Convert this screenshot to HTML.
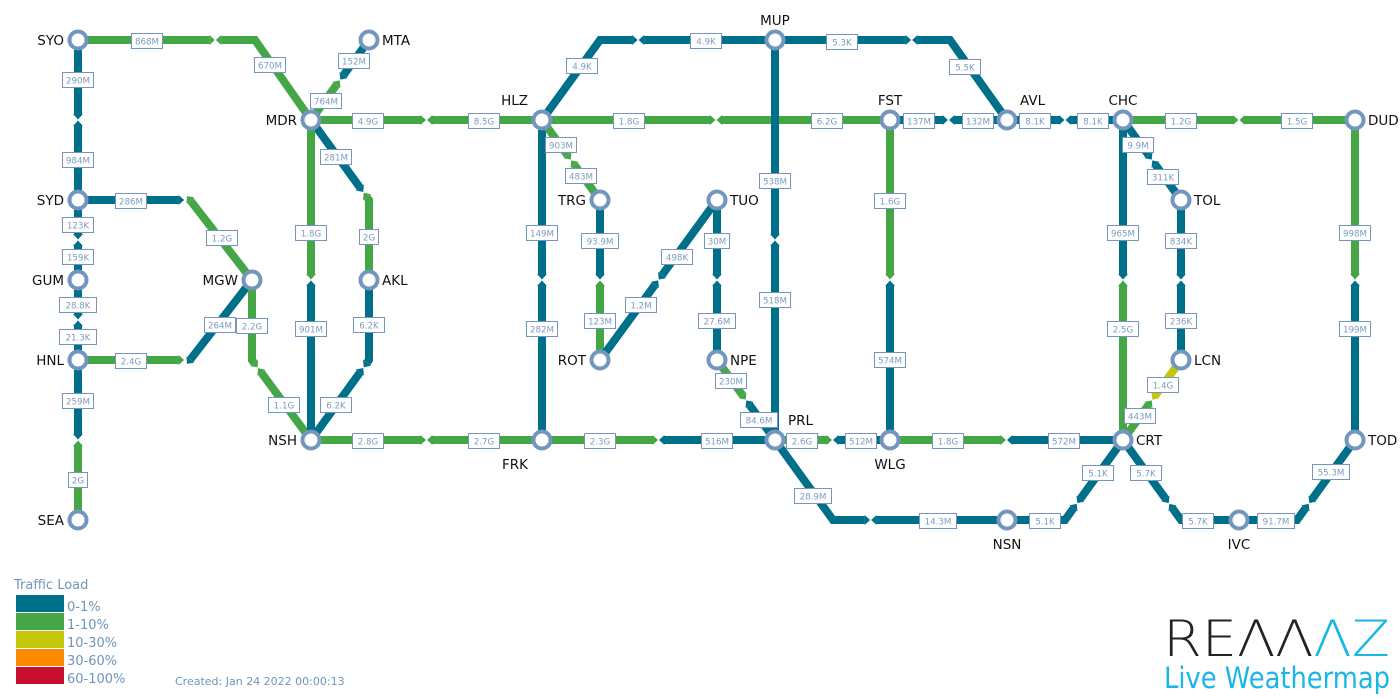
<!DOCTYPE html>
<html><head><meta charset="utf-8"><style>
html,body{margin:0;padding:0;background:#fff;width:1400px;height:700px;overflow:hidden}
svg{display:block}
</style></head><body>
<svg id="s" width="1400" height="700" xmlns="http://www.w3.org/2000/svg" font-family="DejaVu Sans, Liberation Sans, sans-serif">
<g id="links"></g><g id="labels"></g><g id="nodes"></g>
<g font-size="13" fill="#6f95bb">
<text x="14" y="589">Traffic Load</text>
</g>
<rect x="16" y="595" width="48" height="17" fill="#006f8a"/>
<rect x="16" y="613" width="48" height="17" fill="#45a646"/>
<rect x="16" y="631" width="48" height="17" fill="#c4c60a"/>
<rect x="16" y="649" width="48" height="17" fill="#fb8c00"/>
<rect x="16" y="667" width="48" height="17" fill="#c8102e"/>
<g font-size="13" fill="#6f95bb">
<text x="67" y="611">0-1%</text><text x="67" y="629">1-10%</text><text x="67" y="647">10-30%</text><text x="67" y="665">30-60%</text><text x="67" y="683">60-100%</text>
</g>
<text x="175" y="685" font-size="11" fill="#6f95bb">Created: Jan 24 2022 00:00:13</text>
<text x="1163" y="656" font-size="50" font-family="DejaVu Sans, sans-serif" font-weight="200" textLength="227" lengthAdjust="spacingAndGlyphs"><tspan fill="#222">REΛΛ</tspan><tspan fill="#1ab6e6">ΛZ</tspan></text>
<text x="1164" y="688" font-size="29" fill="#1ab6e6" textLength="226" lengthAdjust="spacingAndGlyphs">Live Weathermap</text>
</svg>
<script>
const B="#006f8a",G="#45a646",Y="#c4c60a";
const N={SYO:[78,40],SYD:[78,200],GUM:[78,280],HNL:[78,360],SEA:[78,520],MDR:[311,120],MTA:[369,40],MGW:[252,280],AKL:[369,280],NSH:[311,440],HLZ:[542,120],FRK:[542,440],TRG:[600,200],ROT:[600,360],TUO:[717,200],NPE:[717,360],MUP:[775,40],PRL:[775,440],FST:[890,120],WLG:[890,440],NSN:[1007,520],AVL:[1007,120],CHC:[1123,120],CRT:[1123,440],TOL:[1181,200],LCN:[1181,360],IVC:[1239,520],DUD:[1355,120],TOD:[1355,440]};
const L=[
["SYO","SYD",[],B,B,"290M",[78,80],"984M",[78,160]],
["SYO","MDR",[[255,40]],G,G,"868M",[147,41],"670M",[270,65]],
["SYD","GUM",[],B,B,"123K",[78,225],"159K",[78,257]],
["GUM","HNL",[],B,B,"28.8K",[78,305],"21.3K",[78,337]],
["HNL","SEA",[],B,G,"259M",[78,401],"2G",[78,480]],
["SYD","MGW",[[190,200]],B,G,"286M",[131,201],"1.2G",[222,238]],
["HNL","MGW",[[190,360]],G,B,"2.4G",[131,361],"264M",[220,325]],
["MGW","NSH",[[252,360]],G,G,"2.2G",[252,326],"1.1G",[284,405]],
["MDR","MTA",[],G,B,"764M",[326,101],"152M",[354,61]],
["MDR","HLZ",[],G,G,"4.9G",[368,121],"8.5G",[484,121]],
["MDR","AKL",[[369,200]],B,G,"281M",[336,157],"2G",[369,237]],
["MDR","NSH",[],G,B,"1.8G",[311,233],"901M",[311,329]],
["AKL","NSH",[[369,360]],B,B,"6.2K",[369,325],"6.2K",[336,405]],
["NSH","FRK",[],G,G,"2.8G",[368,441],"2.7G",[484,441]],
["HLZ","FRK",[],B,B,"149M",[542,233],"282M",[542,329]],
["HLZ","MUP",[[600,40]],B,B,"4.9K",[582,66],"4.9K",[706,41]],
["HLZ","FST",[],G,G,"1.8G",[629,121],"6.2G",[827,121]],
["HLZ","TRG",[],G,G,"903M",[561,145],"483M",[581,176]],
["TRG","ROT",[],B,G,"93.9M",[600,241],"123M",[600,321]],
["ROT","TUO",[],B,B,"1.2M",[641,305],"498K",[677,257]],
["TUO","NPE",[],B,B,"30M",[717,241],"27.6M",[717,321]],
["NPE","PRL",[],G,B,"230M",[731,381],"84.6M",[759,420]],
["FRK","PRL",[],G,B,"2.3G",[600,441],"516M",[717,441]],
["MUP","PRL",[],B,B,"538M",[775,181],"518M",[775,300]],
["MUP","AVL",[[950,40]],B,B,"5.3K",[842,42],"5.5K",[965,67]],
["FST","AVL",[],B,B,"137M",[919,121],"132M",[978,121]],
["FST","WLG",[],G,B,"1.6G",[890,201],"574M",[890,360]],
["PRL","WLG",[],G,B,"2.6G",[802,441],"512M",[861,441]],
["PRL","NSN",[[833,520]],B,B,"28.9M",[813,496],"14.3M",[938,521]],
["AVL","CHC",[],B,B,"8.1K",[1035,121],"8.1K",[1093,121]],
["WLG","CRT",[],G,B,"1.8G",[948,441],"572M",[1064,441]],
["NSN","CRT",[[1065,520]],B,B,"5.1K",[1045,521],"5.1K",[1098,473]],
["CHC","DUD",[],G,G,"1.2G",[1181,121],"1.5G",[1297,121]],
["CHC","TOL",[],B,B,"9.9M",[1138,145],"311K",[1163,177]],
["TOL","LCN",[],B,B,"834K",[1181,241],"236K",[1181,321]],
["CHC","CRT",[],B,G,"965M",[1123,233],"2.5G",[1123,329]],
["LCN","CRT",[],Y,G,"1.4G",[1163,385],"443M",[1140,416]],
["CRT","IVC",[[1181,520]],B,B,"5.7K",[1146,473],"5.7K",[1198,521]],
["IVC","TOD",[[1297,520]],B,B,"91.7M",[1276,521],"55.3M",[1331,472]],
["DUD","TOD",[],G,B,"998M",[1355,233],"199M",[1355,329]]
];
const NL={SYO:[-14,5,"end"],SYD:[-14,5,"end"],GUM:[-14,5,"end"],HNL:[-14,5,"end"],SEA:[-14,5,"end"],MDR:[-14,5,"end"],MTA:[13,5,"start"],MGW:[-14,5,"end"],AKL:[13,5,"start"],NSH:[-14,5,"end"],HLZ:[-14,-15,"end"],FRK:[-14,29,"end"],TRG:[-14,5,"end"],ROT:[-14,5,"end"],TUO:[13,5,"start"],NPE:[13,5,"start"],MUP:[0,-15,"middle"],PRL:[13,-15,"start"],FST:[0,-15,"middle"],WLG:[0,29,"middle"],NSN:[0,29,"middle"],AVL:[13,-15,"start"],CHC:[0,-15,"middle"],CRT:[13,5,"start"],TOL:[13,5,"start"],LCN:[13,5,"start"],IVC:[0,29,"middle"],DUD:[13,5,"start"],TOD:[13,5,"start"]};
const ns="http://www.w3.org/2000/svg";
function el(t,a,p){const e=document.createElementNS(ns,t);for(const k in a)e.setAttribute(k,a[k]);p.appendChild(e);return e;}
const gl=document.getElementById("links"),gb=document.getElementById("labels"),gn=document.getElementById("nodes");
function half(pts,col){
 let segs=[],tot=0;for(let i=1;i<pts.length;i++){const d=Math.hypot(pts[i][0]-pts[i-1][0],pts[i][1]-pts[i-1][1]);segs.push(d);tot+=d;}
 const cut=tot-6;let acc=0,out=[pts[0]],dir=[1,0];
 for(let i=1;i<pts.length;i++){const d=segs[i-1];const a=pts[i-1],b=pts[i];dir=[(b[0]-a[0])/d,(b[1]-a[1])/d];
  if(acc+d>=cut){const t=cut-acc;out.push([a[0]+dir[0]*t,a[1]+dir[1]*t]);break;}out.push(b);acc+=d;}
 el("polyline",{points:out.map(p=>p.join(",")).join(" "),fill:"none",stroke:col,"stroke-width":8,"stroke-linejoin":"miter"},gl);
 const e=out[out.length-1],nx=-dir[1],ny=dir[0];const tip=[e[0]+dir[0]*5.5,e[1]+dir[1]*5.5];
 el("polygon",{points:[[e[0]+nx*5,e[1]+ny*5],tip,[e[0]-nx*5,e[1]-ny*5]].map(p=>p.join(",")).join(" "),fill:col},gl);
}
function label(t,p){
 const w=t.length*6+7;
 el("rect",{x:p[0]-w/2,y:p[1]-7.5,width:w,height:15,fill:"#fff",stroke:"#7496be","stroke-width":1},gb);
 const x=el("text",{x:p[0],y:p[1]+3.5,"font-size":8.7,fill:"#7a9cc0","text-anchor":"middle"},gb);x.textContent=t;
}
for(const l of L){
 const pts=[N[l[0]],...l[2],N[l[1]]];
 let tot=0,segs=[];for(let i=1;i<pts.length;i++){const d=Math.hypot(pts[i][0]-pts[i-1][0],pts[i][1]-pts[i-1][1]);segs.push(d);tot+=d;}
 let m=tot/2,acc=0,mid,idx;
 for(let i=1;i<pts.length;i++){if(acc+segs[i-1]>=m){const t=(m-acc)/segs[i-1];mid=[pts[i-1][0]+(pts[i][0]-pts[i-1][0])*t,pts[i-1][1]+(pts[i][1]-pts[i-1][1])*t];idx=i;break;}acc+=segs[i-1];}
 const A=pts.slice(0,idx).concat([mid]);const Bp=pts.slice(idx).reverse().concat([mid]);
 half(A,l[3]);half(Bp,l[4]);
 label(l[5],l[6]);label(l[7],l[8]);
}
for(const k in N){const p=N[k];el("circle",{cx:p[0],cy:p[1],r:8.5,fill:"#fff",stroke:"#7496be","stroke-width":4},gn);
 const o=NL[k];const t=el("text",{x:p[0]+o[0],y:p[1]+o[1],"font-size":13.5,fill:"#111","text-anchor":o[2]},gn);t.textContent=k;}
</script>
</body></html>
